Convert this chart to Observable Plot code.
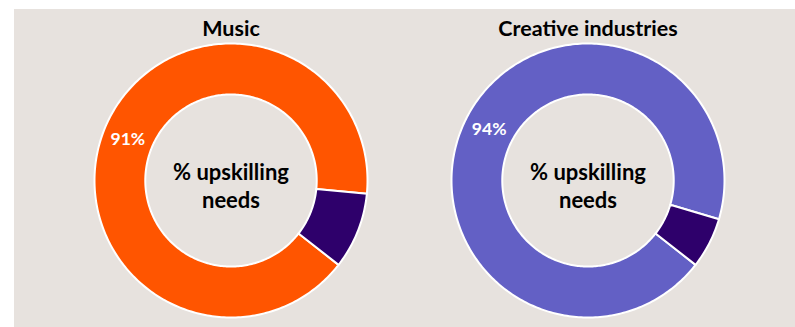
<!DOCTYPE html>
<html>
<head>
<meta charset="utf-8">
<script src="https://cdn.jsdelivr.net/npm/d3@7"></script>
<script src="https://cdn.jsdelivr.net/npm/@observablehq/plot@0.6"></script>
<style>
  html, body { margin: 0; padding: 0; background: #ffffff; }
  #wrap { position: absolute; left: 14px; top: 9px; width: 781px; height: 318px; background: #e7e2de; overflow: hidden; }
  #chart { position: absolute; left: -14px; top: -9px; }
</style>
</head>
<body>
<div id="wrap"><div id="chart"></div></div>
<script>
// ---- data ----
const charts = ["Music", "Creative industries"];
const upskilling = [91, 94];       // % with upskilling needs
const other = [9, 6];              // remainder
const centerLabel = "% upskilling\nneeds";
const bigColors = ["#ff5500", "#6360c5"];
const smallColor = "#2e006b";

// ---- geometry helpers (unit circle, angles clockwise from 12 o'clock) ----
const startDeg = 128;
const inner = 0.628;
const polys = [];
const labels = [];
charts.forEach((c, i) => {
  const vals = [upskilling[i], other[i]];
  const total = d3.sum(vals);
  let a = startDeg;
  vals.forEach((v, j) => {
    const a0 = a, a1 = a + v / total * 360;
    const id = c + "-" + j;
    const fill = j === 0 ? bigColors[i] : smallColor;
    const n = Math.max(4, Math.ceil((a1 - a0) / 1));
    const pts = [];
    for (let k = 0; k <= n; k++) {
      const t = (a0 + (a1 - a0) * k / n) * Math.PI / 180;
      pts.push({x: Math.sin(t), y: Math.cos(t)});
    }
    for (let k = n; k >= 0; k--) {
      const t = (a0 + (a1 - a0) * k / n) * Math.PI / 180;
      pts.push({x: inner * Math.sin(t), y: inner * Math.cos(t)});
    }
    pts.push(pts[0]);
    pts.forEach(p => polys.push({...p, chart: c, id, fill}));
    if (j === 0) {
      const m = ((a0 + a1) / 2) * Math.PI / 180;
      const r = (1 + inner) / 2;
      labels.push({chart: c, x: r * Math.sin(m), y: r * Math.cos(m), text: v + "%"});
    }
    a = a1;
  });
});
const centers = charts.map(c => ({chart: c, x: 0, y: 0, text: centerLabel}));

const plot = Plot.plot({
  width: 795,
  height: 327,
  marginLeft: 93,
  marginRight: 70,
  marginTop: 43,
  marginBottom: 10,
  style: {background: "transparent", fontFamily: "Lato, 'Open Sans', sans-serif"},
  fx: {domain: charts, paddingInner: 0.2346, paddingOuter: 0},
  x: {domain: [-1, 1], axis: null},
  y: {domain: [-1, 1], axis: null},
  marks: [
    Plot.axisFx({anchor: "top", tickSize: 0, tickPadding: 8, label: null, fontSize: 21.5, fontWeight: "bold", fill: "#000"}),
    Plot.line(polys, {fx: "chart", x: "x", y: "y", z: "id", fill: "fill", stroke: "#ffffff", strokeWidth: 2, curve: "linear"}),
    Plot.text(labels, {fx: "chart", x: "x", y: "y", text: "text", fill: "#ffffff", fontSize: 17.5, fontWeight: "bold"}),
    Plot.text(centers, {fx: "chart", x: "x", y: "y", text: "text", fill: "#000000", fontSize: 22, fontWeight: "bold", lineHeight: 1.27, dy: 5})
  ]
});
document.getElementById("chart").appendChild(plot);
</script>
</body>
</html>
